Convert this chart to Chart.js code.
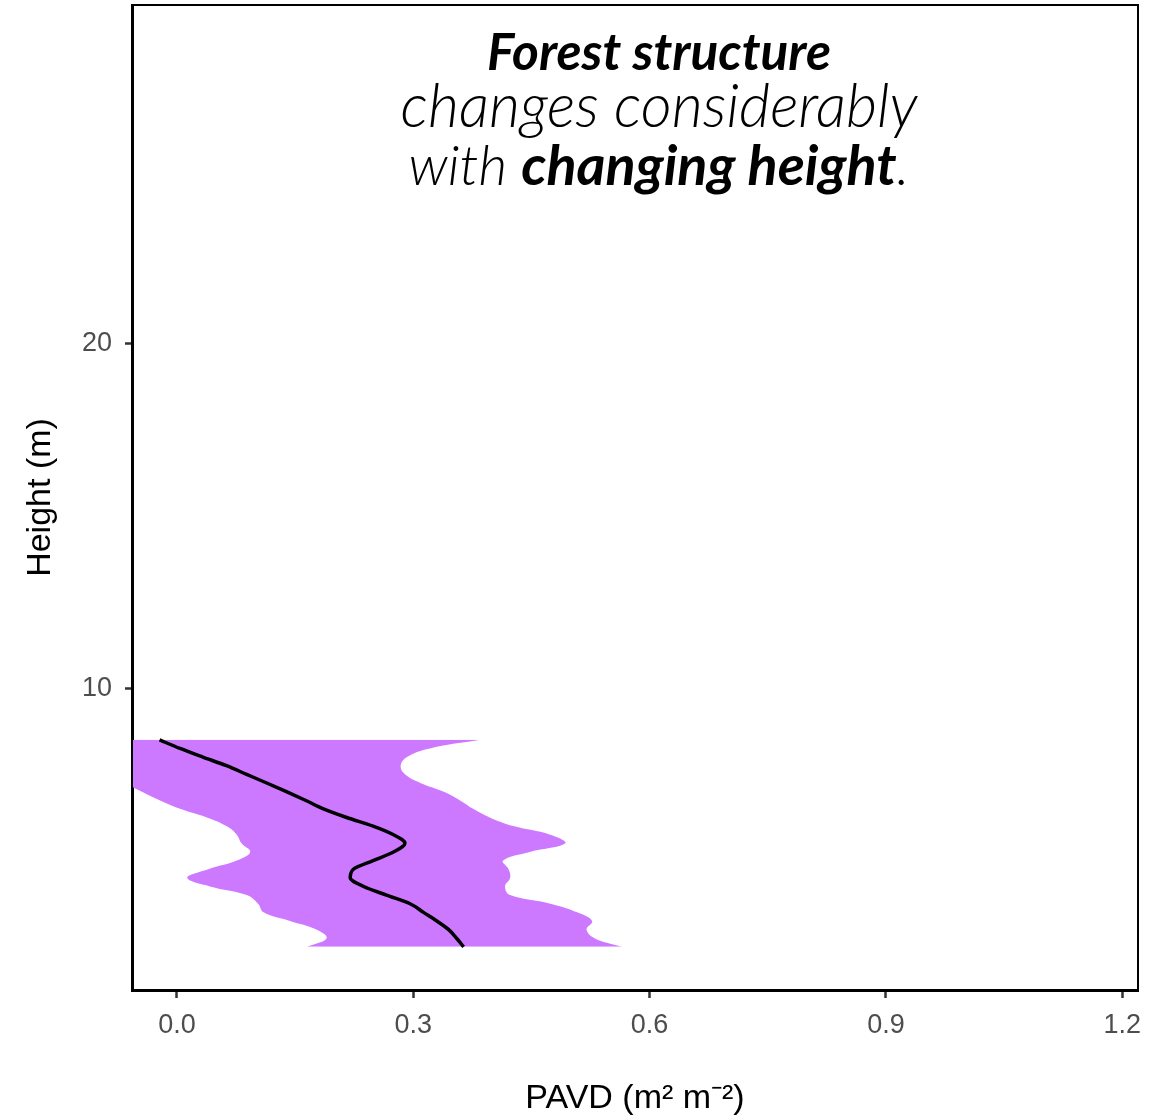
<!DOCTYPE html>
<html>
<head>
<meta charset="utf-8">
<script src="https://cdn.jsdelivr.net/npm/chart.js@4.4.1/dist/chart.umd.min.js"></script>
<style>
  html, body { margin: 0; padding: 0; background: #fff; }
</style>
</head>
<body>
<canvas id="pavdChart" width="1161" height="1120"></canvas>
<script>
// heights (m), bottom to top
const heights = [2.5, 2.75, 3.0, 3.25, 3.5, 3.75, 4.0, 4.25, 4.5, 4.75, 5.0, 5.25, 5.5,
                 5.75, 6.0, 6.25, 6.5, 6.75, 7.0, 7.25, 7.5, 7.75, 8.0, 8.25, 8.5];
// mean PAVD profile
const pavdMean = [0.364, 0.355, 0.345, 0.330, 0.313, 0.296, 0.266, 0.237, 0.220, 0.224, 0.249, 0.275, 0.2895,
                  0.275, 0.249, 0.2155, 0.186, 0.163, 0.139, 0.114, 0.0885, 0.063, 0.033, 0.004, -0.022];
// ribbon bounds
const pavdLower = [0.165, 0.190, 0.177, 0.1435, 0.110, 0.103, 0.0885, 0.042, 0.013, 0.040, 0.076, 0.093, 0.082,
                   0.076, 0.063, 0.038, 0.004, -0.022, -0.045, -0.065, -0.080, -0.100, -0.110, -0.120, -0.130];
const pavdUpper = [0.565, 0.530, 0.520, 0.527, 0.508, 0.474, 0.423, 0.4165, 0.423, 0.421, 0.414, 0.448, 0.493,
                   0.474, 0.427, 0.397, 0.376, 0.359, 0.338, 0.309, 0.2895, 0.284, 0.292, 0.321, 0.385];

const xTicks = [0.0, 0.3, 0.6, 0.9, 1.2];
const yTicks = [10, 20];

// title pieces: [text, bold?]
const titleLines = [
  [['Forest structure', true]],
  [['changes considerably', false]],
  [['with ', false], ['changing height', true], ['.', false]]
];

const toPoints = vals => vals.map((v, i) => ({ x: v, y: heights[i] }));

const titlePlugin = {
  id: 'titleText',
  afterDraw(chart) {
    const c = chart.ctx;
    const fam = 'Lato, "Open Sans", sans-serif';
    const fnt = (bold, s) => `italic ${bold ? 700 : 300} ${s}px ${fam}`;
    const widths = [344, 517, 501];
    const baselines = [70, 127, 185];
    const cx = 659;
    c.save();
    c.fillStyle = '#000';
    c.textBaseline = 'alphabetic';
    c.textAlign = 'left';
    titleLines.forEach((pieces, li) => {
      let w100 = 0;
      pieces.forEach(([t, b]) => { c.font = fnt(b, 100); w100 += c.measureText(t).width; });
      const size = 100 * widths[li] / w100;
      let x = cx - widths[li] / 2;
      pieces.forEach(([t, b]) => {
        c.font = fnt(b, size);
        c.fillText(t, x, baselines[li]);
        x += c.measureText(t).width;
      });
    });
    c.restore();
  }
};

const framePlugin = {
  id: 'frame',
  afterDraw(chart) {
    const { left, top, right, bottom } = chart.chartArea;
    const c = chart.ctx;
    c.save();
    c.strokeStyle = '#000';
    c.lineWidth = 2;
    c.strokeRect(left, top, right - left, bottom - top);
    c.restore();
  }
};

const tickFont = { family: '"Liberation Sans", Arial, sans-serif', size: 27 };
const titleFont = { family: '"Liberation Sans", Arial, sans-serif', size: 34 };

new Chart(document.getElementById('pavdChart').getContext('2d'), {
  type: 'line',
  data: {
    datasets: [
      {
        label: 'lower',
        data: toPoints(pavdLower),
        borderWidth: 0,
        pointRadius: 0,
        tension: 0.4,
        fill: false,
        order: 2
      },
      {
        label: 'upper',
        data: toPoints(pavdUpper),
        borderWidth: 0,
        pointRadius: 0,
        tension: 0.4,
        backgroundColor: '#CC79FF',
        fill: '-1',
        order: 1
      },
      {
        label: 'mean',
        data: toPoints(pavdMean),
        borderColor: '#000',
        borderWidth: 3.5,
        pointRadius: 0,
        cubicInterpolationMode: 'monotone',
        fill: false,
        order: 0
      }
    ]
  },
  options: {
    responsive: false,
    animation: false,
    indexAxis: 'y',
    layout: { padding: { left: 16, right: 23, top: 5, bottom: 0 } },
    plugins: {
      legend: { display: false },
      tooltip: { enabled: false }
    },
    scales: {
      x: {
        type: 'linear',
        position: 'bottom',
        min: -0.057,
        max: 1.22,
        afterBuildTicks: s => { s.ticks = xTicks.map(v => ({ value: v })); },
        afterFit: s => { s.height = 130; s.paddingLeft = 0; s.paddingRight = 0; },
        ticks: {
          callback: v => Number(v).toFixed(1),
          color: '#4d4d4d',
          font: tickFont,
          padding: 11,
          maxRotation: 0
        },
        grid: { drawOnChartArea: false, drawTicks: true, tickLength: 8, tickColor: '#333', tickWidth: 2.5 },
        border: { display: true, color: '#000', width: 3 },
        title: {
          display: true,
          text: 'PAVD (m² m⁻²)',
          color: '#000',
          font: titleFont,
          padding: { top: 4, bottom: 1 }
        }
      },
      y: {
        type: 'linear',
        position: 'left',
        min: 1.25,
        max: 29.8,
        afterBuildTicks: s => { s.ticks = yTicks.map(v => ({ value: v })); },
        afterFit: s => { s.width = 116; s.paddingTop = 0; s.paddingBottom = 0; },
        ticks: {
          callback: v => String(v),
          color: '#4d4d4d',
          font: tickFont,
          padding: 13
        },
        grid: { drawOnChartArea: false, drawTicks: true, tickLength: 7, tickColor: '#333', tickWidth: 2.5 },
        border: { display: true, color: '#000', width: 3 },
        title: {
          display: true,
          text: 'Height (m)',
          color: '#000',
          font: titleFont,
          padding: { top: 4, bottom: 4 }
        }
      }
    }
  },
  plugins: [titlePlugin, framePlugin]
});
</script>
</body>
</html>
